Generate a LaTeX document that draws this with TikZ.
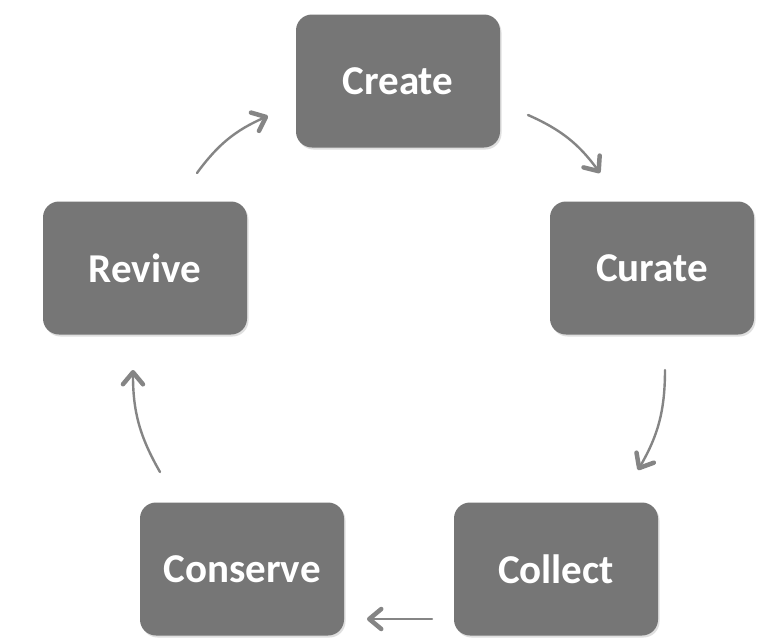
\documentclass[tikz,border=0pt]{standalone}
\usepackage{fontspec}
\setmainfont{Carlito}
\usetikzlibrary{arrows.meta,shadows}
\definecolor{boxgray}{HTML}{767676}
\definecolor{arrgray}{HTML}{858585}
\begin{document}
\begin{tikzpicture}[x=1pt,y=-1pt,
  stage/.style={draw=none, fill=boxgray, rounded corners=16pt, minimum width=204pt, minimum height=133pt,
    text=white, font=\fontsize{41}{49}\selectfont\bfseries,
    drop shadow={shadow xshift=1.5pt, shadow yshift=-2pt, opacity=0.25, fill=gray}},
  flow/.style={draw=arrgray, line width=2.4pt, line cap=round, -{Straight Barb[length=12pt,width=20pt,line width=4.5pt,round]}}]
\useasboundingbox (0,0) rectangle (781,643);
\fill[white] (0,0) rectangle (781,643);
\node[stage] (create) at (398,81) {Create};
\node[stage] (curate) at (652,268) {Curate};
\node[stage] (collect) at (556,569) {Collect};
\node[stage] (conserve) at (242,569) {Conserve};
\node[stage] (revive) at (145,268) {Revive};
\coordinate (a1s) at (197,173); \coordinate (a1e) at (268,116);
\coordinate (a2s) at (528,115); \coordinate (a2e) at (600,173);
\coordinate (a3s) at (665,370); \coordinate (a3e) at (638,470);
\coordinate (a4s) at (432,619); \coordinate (a4e) at (367,619);
\coordinate (a5s) at (160,472); \coordinate (a5e) at (133,370);
\draw[flow] (a1s) to[bend left=15] (a1e);
\draw[flow] (a2s) to[bend left=15] (a2e);
\draw[flow] (a3s) to[bend left=15] (a3e);
\draw[flow] (a4s) -- (a4e);
\draw[flow] (a5s) to[bend left=15] (a5e);
\end{tikzpicture}
\end{document}
